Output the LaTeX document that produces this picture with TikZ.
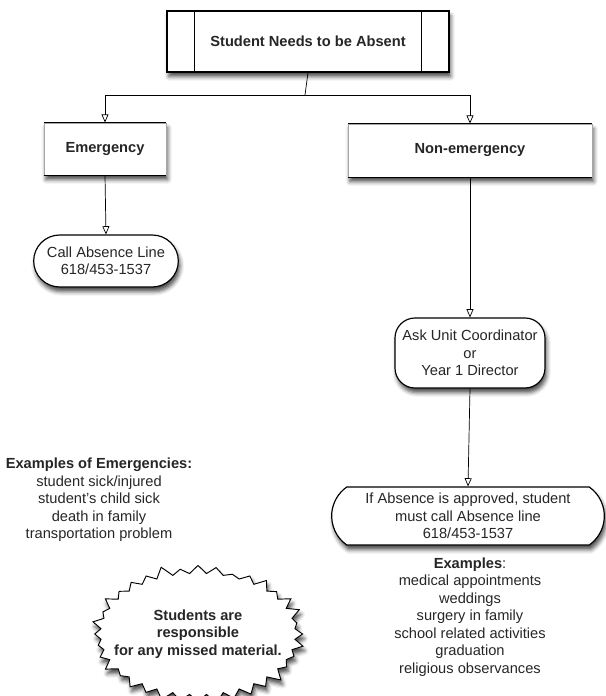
\documentclass[tikz,border=0pt]{standalone}
\usepackage{fontspec}
\setmainfont{Liberation Sans}
\usetikzlibrary{arrows.meta,calc,shapes.misc,shapes.symbols,shadows.blur}

\tikzset{
  txt/.style={font=\fontsize{12.5}{14.9}\selectfont, text=black!85, align=center},
  shade/.style={blur shadow={shadow xshift=1.5pt, shadow yshift=-4pt, shadow blur radius=3.5pt, shadow opacity=70}},
  arr/.style={-{Triangle[open,length=7pt,width=6pt]}, line width=.6pt},
  procbox/.style={txt, rectangle, draw, line width=1pt, fill=white, shade, font=\fontsize{12.5}{14.9}\selectfont\bfseries},
  casebox/.style={txt, rectangle, draw=black!35, line width=.8pt, fill=white, shade, font=\fontsize{12.5}{14.9}\selectfont\bfseries},
  stepround/.style={txt, rounded rectangle, draw, line width=1pt, fill=white, shade},
}

\begin{document}
\begin{tikzpicture}[x=0.03cm, y=-0.03cm]
  \useasboundingbox (0,0) rectangle (605,696);
  % top of the chart
  \node[procbox, minimum width=8.46cm, minimum height=1.83cm] (absent) at (308,41.5) {Student Needs to be Absent};
  \draw[line width=.8pt] ($(absent.north west)+(28,0)$) -- ($(absent.south west)+(28,0)$);
  \draw[line width=.8pt] ($(absent.north east)+(-28,0)$) -- ($(absent.south east)+(-28,0)$);
  \node[casebox, minimum width=3.66cm, minimum height=1.56cm] (emerg) at (105,149) {Emergency};
  \node[casebox, minimum width=7.32cm, minimum height=1.59cm] (nonemerg) at (470,150.5) {Non-emergency};
  \foreach \n in {emerg, nonemerg} {
    \draw[line width=1pt] (\n.north west) -- (\n.north east);
    \draw[line width=1pt] (\n.south west) -- (\n.south east);
  }
  \coordinate (split) at (305,95);
  \draw[line width=.6pt] (absent.south) -- (split);
  \draw[arr] (split) -| (emerg.north);
  \draw[arr] (split) -| (nonemerg.north);
  % emergency side
  \node[stepround, minimum width=4.41cm, minimum height=1.56cm, inner sep=1pt] (callline) at (106,261) {Call Absence Line\\618/453-1537};
  \draw[arr] (emerg.south) -- (callline.north);
  \node[txt] (emexamples) at (99,500) {\textbf{Examples of Emergencies:}\\student sick/injured\\student's child sick\\death in family\\transportation problem};
  % non-emergency side
  \node[txt, rectangle, rounded corners=0.6cm, draw, line width=1pt, fill=white, shade, minimum width=4.5cm, minimum height=2.1cm, inner sep=1pt] (askcoord) at (470,353) {Ask Unit Coordinator\\or\\Year 1 Director};
  \draw[arr] (nonemerg.south) -- (askcoord.north);
  \node[stepround, rounded rectangle arc length=110, minimum width=8.25cm, minimum height=1.74cm, inner sep=1pt] (approved) at (468,516) {If Absence is approved, student\\must call Absence line\\618/453-1537};
  \draw[arr] (askcoord.south) -- (approved.north);
  \node[txt] (nonexamples) at (470,617) {\textbf{Examples}:\\medical appointments\\weddings\\surgery in family\\school related activities\\graduation\\religious observances};
  % reminder
  \node[txt, starburst, starburst points=36, starburst point height=0.33cm, draw, line width=.8pt, fill=white, shade, minimum width=6.5cm, minimum height=4.3cm, inner xsep=-0.45cm, inner ysep=0pt, font=\fontsize{12.5}{14.9}\selectfont\bfseries] (reminder) at (198,634) {Students are\\responsible\\for any missed material.};
\end{tikzpicture}
\end{document}
